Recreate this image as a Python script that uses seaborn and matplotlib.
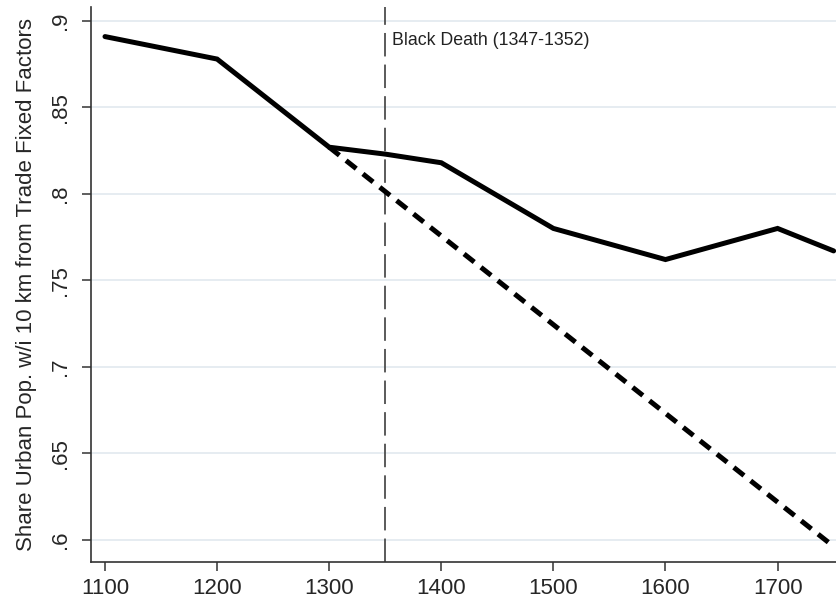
import matplotlib
matplotlib.use("Agg")
import matplotlib.pyplot as plt
import seaborn as sns
import pandas as pd

# Data
years_actual = [1100, 1200, 1300, 1350, 1400, 1500, 1600, 1700, 1750]
share_actual = [0.891, 0.878, 0.827, 0.823, 0.818, 0.780, 0.762, 0.780, 0.767]
years_trend = [1300, 1750]
share_trend = [0.827, 0.596]
yticks = [0.6, 0.65, 0.7, 0.75, 0.8, 0.85, 0.9]
ytick_labels = [".6", ".65", ".7", ".75", ".8", ".85", ".9"]
xticks = [1100, 1200, 1300, 1400, 1500, 1600, 1700]
event_year = 1350
event_label = "Black Death (1347-1352)"
ylabel = "Share Urban Pop. w/i 10 km from Trade Fixed Factors"

sns.set_theme(style="white")
plt.rcParams['font.family'] = ['Liberation Sans', 'DejaVu Sans']

df_a = pd.DataFrame({"year": years_actual, "share": share_actual})
df_t = pd.DataFrame({"year": years_trend, "share": share_trend})

fig = plt.figure(figsize=(8.37, 6.0), dpi=100)
ax = fig.add_axes([0.1087, 0.0633, 0.8913, 0.9247])

for y in yticks:
    ax.axhline(y, color="#e4ebf0", lw=1.3, zorder=0)

ax.axvline(event_year, color="#4d4d4d", lw=1.3, dashes=(13, 4.5), zorder=1)

sns.lineplot(data=df_a, x="year", y="share", ax=ax, color="black", lw=3.6,
             solid_joinstyle="miter", zorder=3)
sns.lineplot(data=df_t, x="year", y="share", ax=ax, color="black", lw=3.6,
             zorder=3)
ax.lines[-1].set_dashes((2.6, 1.7))
ax.lines[-1].set_dash_capstyle("butt")

ax.text(event_year + 6, 0.8861, event_label, fontsize=12.8, color="#222222",
        va="baseline", ha="left")

ax.set_xlim(1087.5, 1753)
ax.set_ylim(0.587, 0.908)
ax.set_xticks(xticks)
ax.set_xticklabels([str(x) for x in xticks], fontsize=16)
ax.set_yticks(yticks)
ax.set_yticklabels(ytick_labels, fontsize=16, rotation=90, va="center")
ax.set_xlabel("")
ax.set_ylabel(ylabel, fontsize=16)
ax.yaxis.set_label_coords(-0.0717, 0.5)

for s in ["top", "right"]:
    ax.spines[s].set_visible(False)
for s in ["left", "bottom"]:
    ax.spines[s].set_color("#333333")
    ax.spines[s].set_linewidth(1.2)
ax.tick_params(axis="both", direction="out", length=6.5, width=1.1, color="#333333",
               left=True, bottom=True)
ax.tick_params(axis="y", pad=8)
ax.tick_params(axis="x", pad=5)

fig.savefig("out.png", dpi=100)
